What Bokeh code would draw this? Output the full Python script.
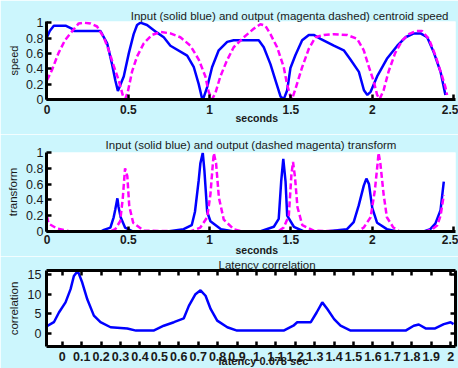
from bokeh.plotting import figure
from bokeh.layouts import column
from bokeh.models import Range1d, FixedTicker, LinearAxis, CustomJSTickFormatter, Title
from bokeh.embed import file_html
from bokeh.resources import INLINE

# ---------------- data ----------------
# Panel 1: centroid speed
speed_in_t = [0.0, 0.017, 0.042, 0.114, 0.155, 0.165, 0.329, 0.37, 0.40, 0.42, 0.436, 0.447, 0.472,
              0.503, 0.533, 0.554, 0.574, 0.615, 0.677, 0.718, 0.759, 0.862, 0.903, 0.933, 0.954,
              0.96, 0.985, 1.015, 1.056, 1.108, 1.148, 1.302, 1.333, 1.374, 1.405, 1.436, 1.456,
              1.477, 1.497, 1.528, 1.569, 1.61, 1.64, 1.682, 1.764, 1.825, 1.866, 1.918, 1.949,
              1.97, 1.99, 2.03, 2.09, 2.154, 2.205, 2.256, 2.297, 2.338, 2.379, 2.42, 2.44, 2.45]
speed_in = [0.81, 0.89, 0.96, 0.96, 0.92, 0.89, 0.89, 0.73, 0.46, 0.25, 0.11, 0.17, 0.30,
            0.60, 0.85, 0.97, 1.0, 0.97, 0.87, 0.81, 0.70, 0.57, 0.42, 0.20, 0.01,
            0.005, 0.16, 0.42, 0.64, 0.75, 0.77, 0.77, 0.68, 0.46, 0.25, 0.04, 0.005,
            0.12, 0.41, 0.58, 0.77, 0.84, 0.84, 0.79, 0.70, 0.64, 0.52, 0.36, 0.12,
            0.06, 0.10, 0.30, 0.53, 0.70, 0.81, 0.86, 0.86, 0.81, 0.61, 0.36, 0.16, 0.06]
speed_out_t = [0.0, 0.03, 0.07, 0.11, 0.155, 0.195, 0.226, 0.267, 0.308, 0.349, 0.38, 0.41, 0.441,
               0.468, 0.482, 0.497, 0.524, 0.554, 0.595, 0.646, 0.698, 0.759, 0.82, 0.882, 0.933,
               0.974, 0.994, 1.015, 1.035, 1.066, 1.107, 1.148, 1.21, 1.271, 1.312, 1.343, 1.374,
               1.415, 1.456, 1.476, 1.497, 1.507, 1.528, 1.569, 1.61, 1.651, 1.702, 1.764, 1.846,
               1.907, 1.948, 1.98, 2.01, 2.03, 2.046, 2.07, 2.10, 2.14, 2.184, 2.225, 2.266,
               2.307, 2.348, 2.389, 2.43, 2.45, 2.46]
speed_out = [0.25, 0.38, 0.60, 0.77, 0.89, 0.99, 1.0, 0.99, 0.95, 0.81, 0.64, 0.44, 0.25,
             0.04, 0.01, 0.10, 0.37, 0.56, 0.73, 0.84, 0.88, 0.86, 0.81, 0.70, 0.52,
             0.30, 0.10, 0.005, 0.08, 0.30, 0.51, 0.68, 0.81, 0.92, 0.98, 0.96, 0.85,
             0.68, 0.42, 0.20, 0.04, 0.005, 0.14, 0.42, 0.66, 0.81, 0.84, 0.85, 0.84,
             0.79, 0.64, 0.42, 0.23, 0.06, 0.005, 0.12, 0.36, 0.60, 0.77, 0.85, 0.89,
             0.89, 0.79, 0.57, 0.30, 0.16, 0.06]

# Panel 2: transform
tr_in_t = [0.0, 0.33, 0.35, 0.39, 0.41, 0.42, 0.433, 0.44, 0.453, 0.48, 0.53, 0.74, 0.84, 0.89,
           0.91, 0.933, 0.943, 0.958, 0.968, 0.985, 1.005, 1.07, 1.15, 1.31, 1.395, 1.425, 1.44,
           1.453, 1.467, 1.477, 1.518, 1.58, 1.713, 1.845, 1.886, 1.917, 1.948, 1.964, 1.98,
           2.0, 2.03, 2.09, 2.154, 2.317, 2.357, 2.388, 2.42, 2.44]
tr_in = [0, 0, 0.02, 0.05, 0.18, 0.28, 0.42, 0.31, 0.18, 0.05, 0, 0, 0.03, 0.08,
         0.25, 0.65, 0.86, 0.995, 0.77, 0.25, 0.13, 0.03, 0, 0, 0.06, 0.16, 0.63,
         0.92, 0.63, 0.20, 0.06, 0, 0, 0.03, 0.12, 0.33, 0.58, 0.67, 0.60,
         0.30, 0.11, 0.03, 0, 0, 0.03, 0.10, 0.27, 0.63]
tr_out_t = [0.0, 0.01, 0.06, 0.143, 0.39, 0.42, 0.45, 0.466, 0.48, 0.494, 0.506, 0.53, 0.595,
            0.88, 0.943, 0.985, 1.005, 1.02, 1.026, 1.04, 1.057, 1.087, 1.148, 1.2, 1.42,
            1.456, 1.487, 1.503, 1.513, 1.525, 1.54, 1.57, 1.64, 1.91, 1.948, 1.99, 2.016,
            2.033, 2.039, 2.05, 2.07, 2.09, 2.13, 2.17, 2.33, 2.37, 2.40, 2.42, 2.44]
tr_out = [0.19, 0.10, 0.04, 0, 0, 0.03, 0.13, 0.42, 0.80, 0.70, 0.32, 0.11, 0.01,
          0, 0.05, 0.18, 0.47, 0.86, 0.99, 0.86, 0.43, 0.15, 0.03, 0, 0,
          0.05, 0.20, 0.72, 0.88, 0.69, 0.31, 0.08, 0.01, 0, 0.05, 0.18, 0.52,
          0.86, 0.995, 0.86, 0.47, 0.18, 0.05, 0, 0, 0.03, 0.08, 0.20, 0.46]

# Panel 3: latency correlation
lag = [-0.081, -0.043, -0.017, 0.017, 0.043, 0.06, 0.08, 0.103, 0.129, 0.163, 0.197, 0.249,
       0.335, 0.38, 0.47, 0.523, 0.575, 0.626, 0.652, 0.686, 0.712, 0.738, 0.764, 0.798,
       0.85, 0.90, 1.14, 1.19, 1.21, 1.28, 1.31, 1.339, 1.365, 1.40, 1.433, 1.485, 1.768,
       1.81, 1.836, 1.871, 1.92, 1.965, 2.0, 2.015]
corr = [1.7, 2.8, 5.3, 7.9, 11.3, 14.7, 16.0, 13.0, 8.7, 4.5, 2.8, 1.5,
        1.2, 0.64, 0.64, 1.9, 2.8, 3.8, 7.0, 10.0, 11.0, 9.6, 6.2, 3.2,
        1.5, 0.64, 0.64, 1.9, 2.8, 2.8, 5.3, 7.9, 6.2, 3.6, 1.9, 0.64, 0.64,
        1.9, 2.2, 1.2, 1.2, 2.3, 2.8, 2.3]

# ticks and labels
sec_ticks = [0, 0.5, 1, 1.5, 2, 2.5]
sec_labels = ["0", "0.5", "1", "1.5", "2", "2.5"]
speed_ticks = [0, 0.2, 0.4, 0.6, 0.8, 1.0]
speed_labels = ["0", "0.2", "0.4", "0.6", "0.8", "1"]
tr_ticks = [0, 0.2, 0.4, 0.6, 0.8, 1.0]
tr_labels = ["0", "0.2", "0.4", "0.6", "0.8", "1"]
lag_ticks = [0, 0.1, 0.2, 0.3, 0.4, 0.5, 0.6, 0.7, 0.8, 0.9, 1.0, 1.1, 1.2, 1.3, 1.4,
             1.5, 1.6, 1.7, 1.8, 1.9, 2.0]
lag_labels = ["0", "0.1", "0.2", "0.3", "0.4", "0.5", "0.6", "0.7", "0.8", "0.9", "1",
              "1.1", "1.2", "1.3", "1.4", "1.5", "1.6", "1.7", "1.8", "1.9", "2"]
corr_ticks = [0, 5, 10, 15]
corr_labels = ["0", "5", "10", "15"]

title1 = "Input (solid blue) and output (magenta dashed) centroid speed"
title2 = "Input (solid blue) and output (dashed magenta) transform"
title3 = "Latency correlation"

# ---------------- styling ----------------
BG = "#ccf6fd"
BLUE = "#0000ff"
MAGENTA = "#ff00ff"
FONT = "Liberation Sans"
TXT = "#1a1a1a"


def fmt(tks, lbls):
    return CustomJSTickFormatter(
        args=dict(tks=tks, lbls=lbls),
        code="const i = tks.findIndex(t => Math.abs(t - tick) < 1e-9); return i >= 0 ? lbls[i] : '';")


def blank():
    return CustomJSTickFormatter(code="return '';")


def style_axis(ax, tks, formatter, size="12px", bold=False, standoff=3):
    ax.ticker = FixedTicker(ticks=tks)
    ax.formatter = formatter
    ax.axis_line_width = 3
    ax.axis_line_color = "black"
    ax.major_tick_in = 5
    ax.major_tick_out = 0
    ax.major_tick_line_width = 2.5
    ax.major_tick_line_color = "black"
    ax.minor_tick_line_color = None
    ax.major_label_text_font = FONT
    ax.major_label_text_font_size = size
    ax.major_label_text_font_style = "bold" if bold else "normal"
    ax.major_label_text_color = TXT
    ax.major_label_standoff = standoff
    ax.axis_label_text_font = FONT
    ax.axis_label_text_font_style = "normal"
    ax.axis_label_text_color = TXT


def make_fig(h, xr, yr, top, bottom):
    p = figure(width=458, height=h, x_range=Range1d(*xr), y_range=Range1d(*yr),
               output_backend="svg", toolbar_location=None,
               min_border_left=46, min_border_right=3, min_border_top=top,
               min_border_bottom=bottom)
    p.background_fill_color = "white"
    p.border_fill_color = BG
    p.outline_line_color = None
    p.xgrid.visible = False
    p.ygrid.visible = False
    return p


def set_title(t, text, align, offset, standoff, size="11.5px", bold=False):
    t.text = text
    t.align = align
    t.offset = offset
    t.standoff = standoff
    t.text_font = FONT
    t.text_font_size = size
    t.text_font_style = "bold" if bold else "normal"
    t.text_color = TXT


def below_title(p, text, offset, standoff, size, valign="bottom"):
    t = Title()
    set_title(t, text, "left", offset, standoff, size=size, bold=True)
    t.vertical_align = valign
    p.add_layout(t, "below")


# ---------------- panel 1 ----------------
X12 = (-0.003, 2.512)
Y1 = (0, 1.015)
p1 = make_fig(134, X12, Y1, 21, 35)
p1.line(speed_in_t, speed_in, line_color=BLUE, line_width=2.5)
p1.line(speed_out_t, speed_out, line_color=MAGENTA, line_width=2.5, line_dash="6 3")
style_axis(p1.xaxis[0], sec_ticks, fmt(sec_ticks, sec_labels), size="12px", bold=True, standoff=5)
style_axis(p1.yaxis[0], speed_ticks, fmt(speed_ticks, speed_labels), size="12.5px", standoff=3)
p1.yaxis[0].axis_label = "speed"
p1.yaxis[0].axis_label_text_font_size = "11px"
p1.yaxis[0].axis_label_standoff = 3
set_title(p1.title, title1, "right", 7, 0)
below_title(p1, "seconds", 189, -14, "10.5px")

# ---------------- panel 2 ----------------
Y2 = (0, 1.0)
p2 = make_fig(122, X12, Y2, 18, 25)
p2.line(tr_in_t, tr_in, line_color=BLUE, line_width=2.5)
p2.line(tr_out_t, tr_out, line_color=MAGENTA, line_width=2.5, line_dash="6 3")
style_axis(p2.xaxis[0], sec_ticks, fmt(sec_ticks, sec_labels), size="12px", bold=True, standoff=3)
style_axis(p2.yaxis[0], tr_ticks, fmt(tr_ticks, tr_labels), size="12.5px", standoff=3)
p2.yaxis[0].axis_label = "transform"
p2.yaxis[0].axis_label_text_font_size = "11.5px"
p2.yaxis[0].axis_label_standoff = 4
set_title(p2.title, title2, "center", 0, 3)
below_title(p2, "seconds", 189, -9, "10.5px")

# ---------------- panel 3 ----------------
X3 = (-0.081, 2.025)
Y3 = (-3.45, 16.1)
p3 = make_fig(112, X3, Y3, 13, 22)
p3.line(lag, corr, line_color=BLUE, line_width=2.5)
style_axis(p3.xaxis[0], lag_ticks, fmt(lag_ticks, lag_labels), size="12.5px", bold=True, standoff=5)
style_axis(p3.yaxis[0], corr_ticks, fmt(corr_ticks, corr_labels), size="12.5px", standoff=5)
p3.yaxis[0].axis_label = "correlation"
p3.yaxis[0].axis_label_text_font_size = "11.5px"
p3.yaxis[0].axis_label_standoff = 5
top_ax = LinearAxis()
style_axis(top_ax, lag_ticks, blank(), size="0px", standoff=0)
p3.add_layout(top_ax, "above")
right_ax = LinearAxis()
style_axis(right_ax, corr_ticks, blank(), size="0px", standoff=0)
p3.add_layout(right_ax, "right")
set_title(p3.title, title3, "left", 172, 0)
below_title(p3, "latency 0.078 sec", 172, -18, "11px", valign="top")

layout = column(p1, p2, p3, spacing=0)

open("out.html", "w").write(file_html(layout, INLINE))
